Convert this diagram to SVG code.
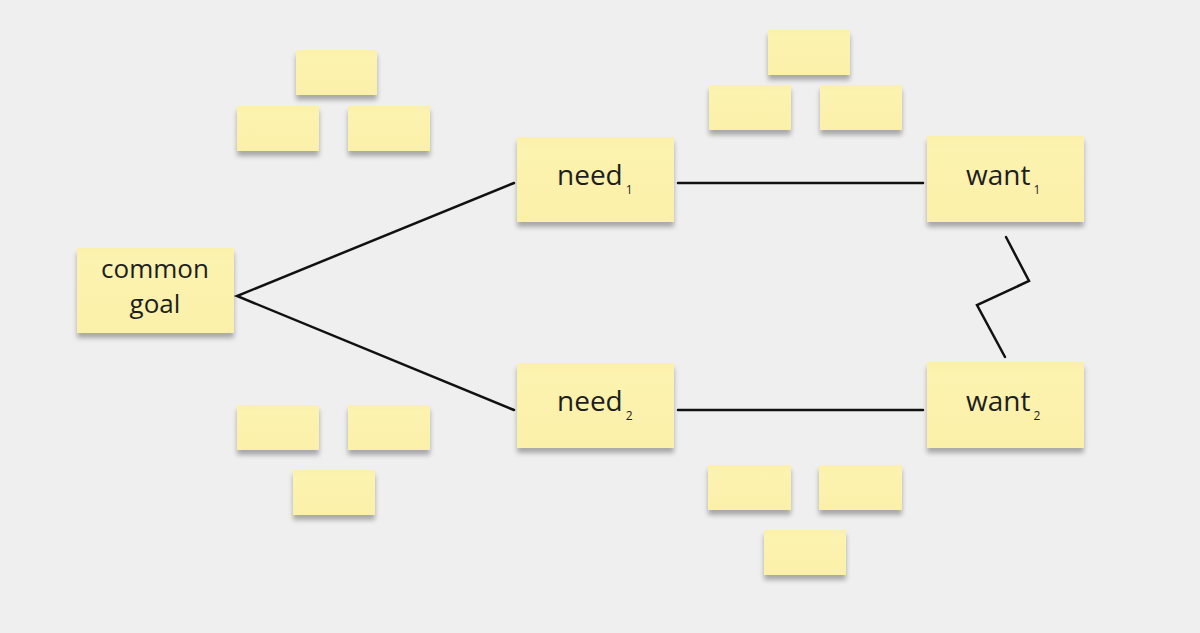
<svg xmlns="http://www.w3.org/2000/svg" width="1200" height="633" viewBox="0 0 1200 633">
<defs>
<filter id="sh" x="-20%" y="-20%" width="140%" height="160%">
<feGaussianBlur in="SourceAlpha" stdDeviation="2.5"/>
<feOffset dx="0" dy="5"/>
<feComponentTransfer><feFuncA type="linear" slope="0.3"/></feComponentTransfer>
<feMerge><feMergeNode/><feMergeNode in="SourceGraphic"/></feMerge>
</filter>
<linearGradient id="g" x1="0" y1="0" x2="0" y2="1">
<stop offset="0" stop-color="#fbf0ab"/>
<stop offset="0.15" stop-color="#fcf3b0"/>
<stop offset="1" stop-color="#fbf0a9"/>
</linearGradient>
</defs>
<style>
.st{fill:url(#g);filter:url(#sh);}
.t{font-family:"Open Sans","Liberation Sans",sans-serif;fill:#1e1e1e;font-size:26px;text-anchor:middle;}
.n{font-size:28px;text-anchor:start;}
.sub{font-size:12px;}
.c{fill:none;stroke:#111;stroke-width:2.5;stroke-linecap:round;stroke-linejoin:miter;}
</style>
<rect width="1200" height="633" fill="#efefef"/>
<g id="connectors">
<path class="c" d="M514,183 L237,296 L514,410"/>
<path class="c" d="M678,183 L923,183"/>
<path class="c" d="M678,410 L923,410"/>
<path class="c" d="M1006,237 L1029,281 L977,305 L1005,357"/>
</g>
<g id="small-notes">
<rect class="st" x="296" y="50" width="81" height="45"/>
<rect class="st" x="237" y="106" width="82" height="45"/>
<rect class="st" x="348" y="106" width="82" height="45"/>
<rect class="st" x="237" y="405" width="82" height="45"/>
<rect class="st" x="348" y="405" width="82" height="45"/>
<rect class="st" x="293" y="470" width="82" height="45"/>
<rect class="st" x="768" y="30" width="82" height="45"/>
<rect class="st" x="709" y="85" width="82" height="45"/>
<rect class="st" x="820" y="85" width="82" height="45"/>
<rect class="st" x="708" y="465" width="83" height="45"/>
<rect class="st" x="819" y="465" width="83" height="45"/>
<rect class="st" x="764" y="530" width="82" height="45"/>
</g>
<g id="common-goal">
<rect class="st" x="77" y="248" width="157" height="85"/>
<text class="t" x="155" y="278">common</text>
<text class="t" x="155" y="313">goal</text>
</g>
<g id="need1">
<rect class="st" x="517" y="137" width="157" height="85"/>
<text class="t n" x="557" y="185">need<tspan class="sub" dx="3" dy="9">1</tspan></text>
</g>
<g id="need2">
<rect class="st" x="517" y="363" width="157" height="85"/>
<text class="t n" x="557" y="411">need<tspan class="sub" dx="3" dy="9">2</tspan></text>
</g>
<g id="want1">
<rect class="st" x="927" y="136" width="157" height="86"/>
<text class="t n" x="966" y="185">want<tspan class="sub" dx="3" dy="9">1</tspan></text>
</g>
<g id="want2">
<rect class="st" x="927" y="362" width="157" height="86"/>
<text class="t n" x="966" y="411">want<tspan class="sub" dx="3" dy="9">2</tspan></text>
</g>
</svg>
